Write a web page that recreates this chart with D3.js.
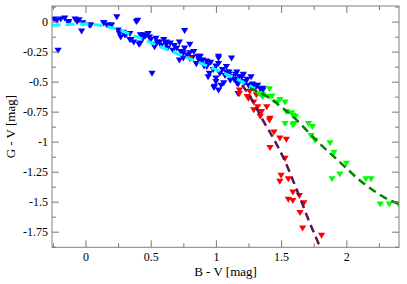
<!DOCTYPE html>
<html><head><meta charset="utf-8">
<script src="https://cdn.jsdelivr.net/npm/d3@7"></script>
<style>
html,body{margin:0;padding:0;background:#fff;}
svg{display:block;}
text{font-family:"Liberation Serif","Times New Roman",serif;}
</style></head>
<body><svg id="c" width="407" height="284"></svg>
<script>
// ---- data (B-V, G-V) ----
const blueBV = [-0.24,-0.22,-0.19,-0.16,-0.13,-0.13,-0.08,-0.065,-0.05,-0.03,-0.02,0.03,0.04,0.14,0.14,0.165,0.19,0.2,0.24,0.25,0.26,0.27,0.29,0.30,0.31,0.34,0.34,0.35,0.37,0.39,0.40,0.41,-0.21,
  0.42,0.42,0.44,0.44,0.46,0.48,0.49,0.50,0.51,0.52,0.53,0.54,0.55,0.57,0.58,0.60,0.62,0.62,0.63,0.65,0.67,0.68,0.70,0.72,0.72,0.73,0.75,0.75,0.76,0.76,0.78,0.80,0.80,0.82,0.83,0.85,0.85,0.86,0.87,0.88,0.88,0.90,0.91,0.93,0.93,0.93,0.94,0.95,0.96,0.98,0.985,0.99,1.0,1.0,1.0,1.02,1.02,1.02,1.02,1.03,1.04,1.05,1.06,1.07,1.08,1.08,1.10,1.10,1.11,1.12,1.12,1.14,1.15,1.16,1.16,1.16,1.17,1.17,1.18,1.20,1.21,1.21,1.22,1.24,1.25,1.27,1.28,1.29,1.30,1.32,1.34,1.35,1.36,1.36];
const blueGV = [0.02,0.01,0.02,0.03,0.0,-0.01,0.02,0.0,0.015,-0.08,-0.01,-0.03,-0.03,-0.01,-0.01,-0.03,-0.03,-0.03,0.04,-0.07,-0.1,-0.13,-0.09,-0.11,-0.11,-0.15,-0.10,-0.15,-0.17,0.0,0.01,-0.19,-0.24,
  -0.11,-0.18,-0.14,-0.11,-0.12,-0.10,-0.13,-0.15,-0.43,-0.19,-0.21,-0.14,-0.17,-0.17,-0.20,-0.15,-0.19,-0.17,-0.22,-0.18,-0.24,-0.20,-0.22,-0.17,-0.32,-0.25,-0.26,-0.305,-0.22,-0.075,-0.28,-0.19,-0.26,-0.30,-0.25,-0.35,-0.35,-0.29,-0.32,-0.29,-0.33,-0.32,-0.37,-0.36,-0.375,-0.33,-0.46,-0.43,-0.34,-0.40,-0.55,-0.54,-0.47,-0.37,-0.5,-0.305,-0.29,-0.35,-0.57,-0.43,-0.53,-0.40,-0.51,-0.45,-0.42,-0.375,-0.44,-0.42,-0.49,-0.305,-0.46,-0.48,-0.44,-0.49,-0.42,-0.51,-0.52,-0.60,-0.46,-0.46,-0.50,-0.44,-0.51,-0.48,-0.53,-0.46,-0.52,-0.53,-0.555,-0.53,-0.56,-0.61,-0.57,-0.555];
const redBV = [0.80,1.18,1.18,1.24,1.25,1.26,1.29,1.29,1.31,1.32,1.34,1.35,1.39,1.415,1.41,1.445,1.49,1.54,1.415,1.53,1.50,1.49,1.555,1.59,1.555,1.59,1.64,1.675,1.645,1.665,1.81];
const redGV = [-0.31,-0.57,-0.60,-0.625,-0.64,-0.58,-0.67,-0.735,-0.61,-0.71,-0.79,-0.75,-0.71,-0.805,-0.82,-0.92,-0.97,-0.98,-1.05,-1.14,-1.28,-1.33,-1.31,-1.42,-1.48,-1.49,-1.45,-1.51,-1.59,-1.72,-1.78];
const greenBV = [1.33,1.36,1.36,1.41,1.43,1.41,1.47,1.49,1.53,1.54,1.58,1.59,1.61,1.53,1.60,1.59,1.71,1.74,1.73,1.76,1.875,1.905,2.0,1.95,1.89,2.15,2.19,2.26,2.33,2.40];
const greenGV = [-0.60,-0.61,-0.625,-0.56,-0.62,-0.625,-0.67,-0.65,-0.67,-0.75,-0.76,-0.78,-0.79,-0.85,-0.85,-0.86,-0.85,-0.875,-0.95,-0.99,-1.01,-1.09,-1.18,-1.27,-1.31,-1.31,-1.31,-1.52,-1.52,-1.52];
// fitted curves
const cyanBV = [-0.26,0,0.2,0.4,0.6,0.8,1.0,1.2,1.3];
const cyanGV = [-0.03,-0.02,-0.05,-0.13,-0.22,-0.31,-0.40,-0.50,-0.56];
const greenFitBV = [1.26,1.4,1.5,1.6,1.7,1.8,1.9,2.0,2.1,2.2,2.3,2.42];
const greenFitGV = [-0.555,-0.63,-0.71,-0.80,-0.91,-1.02,-1.12,-1.22,-1.32,-1.40,-1.47,-1.525];
const purpleBV = [1.2,1.26,1.3,1.36,1.44,1.52,1.62,1.71,1.82];
const purpleGV = [-0.53,-0.62,-0.70,-0.82,-0.97,-1.14,-1.40,-1.65,-1.93];
const xMajor = [0,0.5,1,1.5,2];
const xMinor = [-0.25,0.25,0.75,1.25,1.75,2.25];
const yMajor = [0,-0.25,-0.5,-0.75,-1,-1.25,-1.5,-1.75];
const yMinor = [0.125,-0.125,-0.375,-0.625,-0.875,-1.125,-1.375,-1.625,-1.875];

const L=52,R=399,T=6,B=247.3;
const x = d3.scaleLinear().domain([-0.257,2.404]).range([L,R]);
const y = d3.scaleLinear().domain([-1.88,0.13]).range([B,T]);
const svg = d3.select("#c");
svg.append("defs").append("clipPath").attr("id","clip").append("rect")
  .attr("x",L).attr("y",T).attr("width",R-L).attr("height",B-T);

const zip = (a,b)=>a.map((v,i)=>[v,b[i]]);
const tri = ([bv,gv]) => { const cx=x(bv), cy=y(gv);
  return `M${cx-3.6},${cy-2.6}L${cx+3.6},${cy-2.6}L${cx},${cy+3.4}Z`; };
function pts(data,color){
  svg.append("g").attr("clip-path","url(#clip)").selectAll("path").data(data).join("path")
    .attr("d",tri).attr("fill",color);
}
pts(zip(blueBV,blueGV),"#0000ff");
pts(zip(redBV,redGV),"#ff0000");
pts(zip(greenBV,greenGV),"#00ff00");

const line = d3.line().x(d=>x(d[0])).y(d=>y(d[1])).curve(d3.curveMonotoneX);
function curve(data,color,w,dash){
  svg.append("path").datum(data).attr("clip-path","url(#clip)").attr("d",line)
    .attr("fill","none").attr("stroke",color).attr("stroke-width",w).attr("stroke-dasharray",dash);
}
curve(zip(cyanBV,cyanGV),"#00ffff",3,"9,5");
curve(zip(greenFitBV,greenFitGV),"#007f00",2.5,"8,5");
curve(zip(purpleBV,purpleGV),"#5a1450",2.5,"8,5");

// axes
const fmt = d=>String(d);
const ax = (gen, tx, ty)=>{ const g=svg.append("g").attr("transform",`translate(${tx},${ty})`).call(gen);
  g.select(".domain").remove(); g.selectAll("line").attr("stroke","#777");
  g.selectAll("text").attr("fill","#000").style("font-size","12px").style("font-family","'Liberation Serif',serif"); return g; };
ax(d3.axisBottom(x).tickValues(xMajor).tickSize(-7).tickPadding(5).tickFormat(fmt),0,B);
ax(d3.axisBottom(x).tickValues(xMinor).tickSize(-4).tickFormat(""),0,B);
ax(d3.axisTop(x).tickValues(xMajor).tickSize(-7).tickFormat(""),0,T);
ax(d3.axisTop(x).tickValues(xMinor).tickSize(-4).tickFormat(""),0,T);
ax(d3.axisLeft(y).tickValues(yMajor).tickSize(-7).tickPadding(4).tickFormat(fmt),L,0);
ax(d3.axisLeft(y).tickValues(yMinor).tickSize(-4).tickFormat(""),L,0);
ax(d3.axisRight(y).tickValues(yMajor).tickSize(-7).tickFormat(""),R,0);
ax(d3.axisRight(y).tickValues(yMinor).tickSize(-4).tickFormat(""),R,0);
svg.append("rect").attr("x",L).attr("y",T).attr("width",R-L).attr("height",B-T)
  .attr("fill","none").attr("stroke","#808080").attr("stroke-width",1);

svg.append("text").attr("x",(L+R)/2).attr("y",276).attr("text-anchor","middle")
  .style("font-size","13px").text("B - V [mag]");
svg.append("text").attr("transform",`translate(15,${(T+B)/2}) rotate(-90)`).attr("text-anchor","middle")
  .style("font-size","13px").text("G - V [mag]");
</script></body></html>
